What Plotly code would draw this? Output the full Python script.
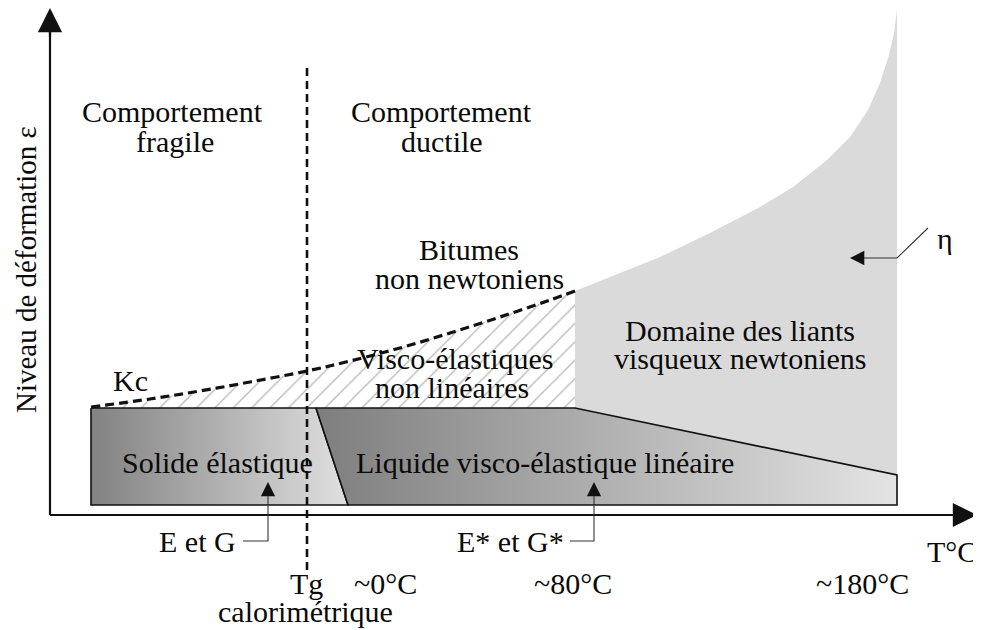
import plotly.graph_objects as go

# ---- schematic data (page coordinates: x to the right, y downward) ----
# Kc critical line (dashed)
kc_x = [91, 150, 200, 250, 307, 350, 400, 450, 500, 550, 575]
kc_y = [407, 399, 391, 382, 371, 361, 348, 333, 317, 300, 291]

# upper boundary of the Newtonian viscous domain (grey area)
newton_x = [575, 610, 660, 710, 760, 793, 827, 850, 868, 880, 889, 894, 897]
newton_y = [291, 277, 257, 233, 207, 187, 160, 137, 110, 83, 55, 33, 10]

# band of linear domains
band_top = 408
band_bottom = 505
band_left = 91
divider_top_x = 316
divider_bottom_x = 348
kink_x = 575
band_right = 897
band_right_top = 475

# axes
origin_x, origin_y = 50, 515
y_axis_tip = 8
x_axis_tip = 977

# Tg line
tg_x = 307
tg_top, tg_bottom = 68, 570

# leaders
eg_arrow_x, eg_tip_y, eg_elbow_y, eg_end_x = 268, 482, 541, 243
egs_arrow_x, egs_end_x = 594, 570
eta_path_x = [928, 897, 862]
eta_path_y = [228, 258, 258]
eta_tip_x = 850

# text labels (one entry per line of text)
label_text = ["Comportement", "fragile", "Comportement", "ductile",
              "Bitumes", "non newtoniens", "Kc",
              "Visco-élastiques", "non linéaires",
              "Domaine des liants", "visqueux newtoniens",
              "Solide élastique", "Liquide visco-élastique linéaire",
              "E et G", "E* et G*", "T°C", "Tg", "calorimétrique",
              "~0°C", "~80°C", "~180°C", "η"]
label_x = [172, 175, 441, 442, 469, 469, 130, 455, 452, 740, 740, 217, 545,
           197, 510, 952, 306, 305, 385, 573, 862, 945]
label_y = [111, 141, 111, 141, 249, 278, 380, 358, 387, 330, 358, 462, 462,
           541, 541, 551, 583, 611, 583, 583, 583, 238]

FONT = "Liberation Serif, Times New Roman, serif"

fig = go.Figure()

# grey Newtonian domain
gx = newton_x + [band_right, kink_x, kink_x]
gy = newton_y + [band_right_top, band_top, newton_y[0]]
fig.add_trace(go.Scatter(x=gx, y=gy, mode="lines", fill="toself",
                         fillcolor="#dadada", line=dict(width=0),
                         hoverinfo="skip"))

# hatched non-linear visco-elastic domain
hx = kc_x + [kink_x, band_left, kc_x[0]]
hy = kc_y + [band_top, band_top, kc_y[0]]
fig.add_trace(go.Scatter(x=hx, y=hy, mode="lines", fill="toself",
                         fillcolor="rgba(0,0,0,0)",
                         fillpattern=dict(shape="/", size=13, solidity=0.11,
                                          fgcolor="#7a7a7a", bgcolor="white"),
                         line=dict(width=0), hoverinfo="skip"))

# solide elastique
sx = [band_left, divider_top_x, divider_bottom_x, band_left, band_left]
sy = [band_top, band_top, band_bottom, band_bottom, band_top]
fig.add_trace(go.Scatter(x=sx, y=sy, mode="lines", fill="toself",
                         fillgradient=dict(type="horizontal",
                                           colorscale=[[0, "#828282"], [1, "#e0e0e0"]]),
                         line=dict(color="#111", width=1.6), hoverinfo="skip"))

# liquide visco-elastique lineaire
lx = [divider_top_x, kink_x, band_right, band_right, divider_bottom_x, divider_top_x]
ly = [band_top, band_top, band_right_top, band_bottom, band_bottom, band_top]
fig.add_trace(go.Scatter(x=lx, y=ly, mode="lines", fill="toself",
                         fillgradient=dict(type="horizontal",
                                           colorscale=[[0, "#7e7e7e"], [1, "#e4e4e4"]]),
                         line=dict(color="#111", width=1.6), hoverinfo="skip"))

# Kc dashed line
fig.add_trace(go.Scatter(x=kc_x, y=kc_y, mode="lines",
                         line=dict(color="#111", width=3.2, dash="9px,5px", shape="spline"),
                         hoverinfo="skip"))

# axes lines
fig.add_trace(go.Scatter(x=[origin_x, origin_x], y=[origin_y, y_axis_tip + 20], mode="lines",
                         line=dict(color="#111", width=2.2), hoverinfo="skip"))
fig.add_trace(go.Scatter(x=[origin_x, x_axis_tip - 20], y=[origin_y, origin_y], mode="lines",
                         line=dict(color="#111", width=2.2), hoverinfo="skip"))

# Tg dashed line
fig.add_trace(go.Scatter(x=[tg_x, tg_x], y=[tg_top, tg_bottom], mode="lines",
                         line=dict(color="#111", width=2.6, dash="8px,5px"),
                         hoverinfo="skip"))

# leader lines
fig.add_trace(go.Scatter(x=[eg_end_x, eg_arrow_x, eg_arrow_x],
                         y=[eg_elbow_y, eg_elbow_y, eg_tip_y + 10], mode="lines",
                         line=dict(color="#333", width=1.1), hoverinfo="skip"))
fig.add_trace(go.Scatter(x=[egs_end_x, egs_arrow_x, egs_arrow_x],
                         y=[eg_elbow_y, eg_elbow_y, eg_tip_y + 10], mode="lines",
                         line=dict(color="#333", width=1.1), hoverinfo="skip"))
fig.add_trace(go.Scatter(x=eta_path_x, y=eta_path_y, mode="lines",
                         line=dict(color="#333", width=1.1), hoverinfo="skip"))

annotations = []


def head(tx, ty, fx, fy, w, size):
    annotations.append(dict(x=tx, y=ty, ax=fx, ay=fy, xref="x", yref="y",
                            axref="x", ayref="y", text="", showarrow=True,
                            arrowhead=2, arrowsize=size, arrowwidth=w,
                            arrowcolor="#111", standoff=0, startstandoff=0))


head(origin_x, y_axis_tip, origin_x, y_axis_tip + 30, 2.2, 2.2)
head(x_axis_tip, origin_y, x_axis_tip - 30, origin_y, 2.2, 2.2)
head(eg_arrow_x, eg_tip_y, eg_arrow_x, eg_tip_y + 14, 1.1, 2.6)
head(egs_arrow_x, eg_tip_y, egs_arrow_x, eg_tip_y + 14, 1.1, 2.6)
head(eta_tip_x, eta_path_y[-1], eta_path_x[-1], eta_path_y[-1], 1.1, 2.6)

for t, x, y in zip(label_text, label_x, label_y):
    annotations.append(dict(x=x, y=y, xref="x", yref="y", text=t, showarrow=False,
                            xanchor="center", yanchor="middle", align="center",
                            font=dict(family=FONT, size=30, color="#0a0a0a")))

# y-axis title
annotations.append(dict(x=26, y=270, xref="x", yref="y", text="Niveau de déformation ε",
                        showarrow=False, textangle=-90, xanchor="center", yanchor="middle",
                        font=dict(family=FONT, size=29, color="#0a0a0a")))

# the page body adds an 8 px offset; ranges compensate so data units equal page pixels
fig.update_layout(
    width=981, height=630,
    margin=dict(l=0, r=0, t=0, b=0),
    paper_bgcolor="white", plot_bgcolor="white",
    showlegend=False,
    xaxis=dict(range=[8, 989], visible=False, fixedrange=True),
    yaxis=dict(range=[638, 8], visible=False, fixedrange=True),
    annotations=annotations,
)

fig.write_html("out.html")
